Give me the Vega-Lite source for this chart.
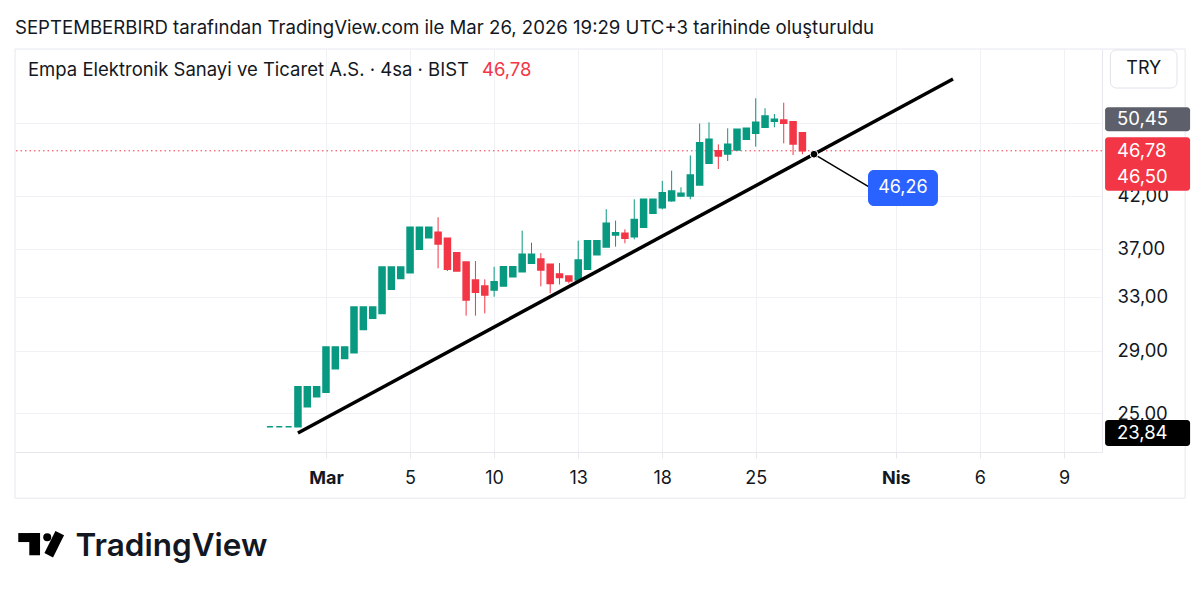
{
  "$schema": "https://vega.github.io/schema/vega-lite/v6.json",
  "width": 1087,
  "height": 403,
  "autosize": {"type": "none"},
  "padding": {"left": 15, "top": 49, "right": 98, "bottom": 140},
  "background": "white",
  "config": {"view": {"stroke": null}, "font": "Inter", "axis": {"zindex": 0}},
  "title": {
    "text": "SEPTEMBERBIRD tarafından TradingView.com ile Mar 26, 2026 19:29 UTC+3 tarihinde oluşturuldu",
    "anchor": "start", "frame": "group", "offset": 15, "baseline": "alphabetic", "dy": 19,
    "fontSize": 18.6, "fontWeight": "normal", "color": "#131722", "font": "Inter"
  },
  "datasets": {
    "candles": [
      {"i": -3, "o": 24.20, "h": 24.20, "l": 24.20, "c": 24.20},
      {"i": -2, "o": 24.20, "h": 24.20, "l": 24.20, "c": 24.20},
      {"i": -1, "o": 24.20, "h": 24.20, "l": 24.20, "c": 24.20},
      {"i": 0, "o": 24.20, "h": 26.62, "l": 24.20, "c": 26.62},
      {"i": 1, "o": 25.38, "h": 26.62, "l": 25.38, "c": 26.62},
      {"i": 2, "o": 25.99, "h": 26.62, "l": 25.99, "c": 26.62},
      {"i": 3, "o": 26.27, "h": 29.28, "l": 26.27, "c": 29.28},
      {"i": 4, "o": 27.79, "h": 29.28, "l": 27.79, "c": 29.28},
      {"i": 5, "o": 28.49, "h": 29.28, "l": 28.49, "c": 29.28},
      {"i": 6, "o": 28.87, "h": 32.21, "l": 28.87, "c": 32.21},
      {"i": 7, "o": 30.53, "h": 32.21, "l": 30.53, "c": 32.21},
      {"i": 8, "o": 31.35, "h": 32.21, "l": 31.35, "c": 32.21},
      {"i": 9, "o": 31.72, "h": 35.43, "l": 31.72, "c": 35.43},
      {"i": 10, "o": 33.60, "h": 35.43, "l": 33.60, "c": 35.43},
      {"i": 11, "o": 34.49, "h": 35.43, "l": 34.49, "c": 35.43},
      {"i": 12, "o": 34.96, "h": 38.97, "l": 34.96, "c": 38.97},
      {"i": 13, "o": 36.97, "h": 38.97, "l": 36.97, "c": 38.97},
      {"i": 14, "o": 38.01, "h": 38.97, "l": 38.01, "c": 38.97},
      {"i": 15, "o": 38.50, "h": 39.91, "l": 35.33, "c": 37.44},
      {"i": 16, "o": 37.95, "h": 37.95, "l": 35.10, "c": 35.24},
      {"i": 17, "o": 36.67, "h": 36.67, "l": 35.10, "c": 35.10},
      {"i": 18, "o": 35.86, "h": 35.86, "l": 31.55, "c": 32.75},
      {"i": 19, "o": 34.35, "h": 35.95, "l": 31.55, "c": 33.36},
      {"i": 20, "o": 33.86, "h": 34.41, "l": 31.72, "c": 33.14},
      {"i": 21, "o": 33.54, "h": 35.46, "l": 33.01, "c": 34.21},
      {"i": 22, "o": 33.86, "h": 35.46, "l": 33.86, "c": 35.46},
      {"i": 23, "o": 34.63, "h": 35.46, "l": 34.63, "c": 35.46},
      {"i": 24, "o": 35.04, "h": 38.65, "l": 35.04, "c": 36.53},
      {"i": 25, "o": 35.75, "h": 37.56, "l": 35.75, "c": 36.53},
      {"i": 26, "o": 36.12, "h": 36.64, "l": 33.84, "c": 35.18},
      {"i": 27, "o": 35.67, "h": 35.67, "l": 33.28, "c": 34.08},
      {"i": 28, "o": 34.85, "h": 35.78, "l": 33.99, "c": 34.57},
      {"i": 29, "o": 34.68, "h": 34.68, "l": 34.07, "c": 34.27},
      {"i": 30, "o": 34.35, "h": 37.74, "l": 34.23, "c": 36.04},
      {"i": 31, "o": 35.25, "h": 37.74, "l": 35.25, "c": 37.74},
      {"i": 32, "o": 36.49, "h": 37.74, "l": 36.49, "c": 37.74},
      {"i": 33, "o": 37.17, "h": 40.69, "l": 37.17, "c": 39.34},
      {"i": 34, "o": 38.25, "h": 39.60, "l": 37.20, "c": 38.46},
      {"i": 35, "o": 38.41, "h": 38.78, "l": 37.50, "c": 37.95},
      {"i": 36, "o": 38.10, "h": 41.66, "l": 37.86, "c": 39.71},
      {"i": 37, "o": 38.96, "h": 41.66, "l": 38.96, "c": 41.66},
      {"i": 38, "o": 40.29, "h": 41.66, "l": 40.29, "c": 41.66},
      {"i": 39, "o": 40.83, "h": 43.54, "l": 40.67, "c": 42.32},
      {"i": 40, "o": 41.52, "h": 44.61, "l": 41.42, "c": 42.49},
      {"i": 41, "o": 41.99, "h": 42.87, "l": 41.92, "c": 42.26},
      {"i": 42, "o": 41.99, "h": 46.26, "l": 41.66, "c": 44.15},
      {"i": 43, "o": 43.11, "h": 49.93, "l": 43.11, "c": 47.69},
      {"i": 44, "o": 45.40, "h": 50.07, "l": 45.40, "c": 48.08},
      {"i": 45, "o": 46.79, "h": 47.51, "l": 44.79, "c": 46.20},
      {"i": 46, "o": 46.42, "h": 49.36, "l": 45.65, "c": 47.51},
      {"i": 47, "o": 46.87, "h": 49.24, "l": 46.87, "c": 49.24},
      {"i": 48, "o": 48.08, "h": 49.36, "l": 48.08, "c": 49.36},
      {"i": 49, "o": 48.78, "h": 53.03, "l": 47.24, "c": 50.07},
      {"i": 50, "o": 49.48, "h": 51.78, "l": 49.48, "c": 50.83},
      {"i": 51, "o": 50.19, "h": 51.08, "l": 49.48, "c": 50.45},
      {"i": 52, "o": 50.35, "h": 52.48, "l": 47.62, "c": 49.95},
      {"i": 53, "o": 50.15, "h": 50.15, "l": 46.31, "c": 47.55},
      {"i": 54, "o": 48.85, "h": 48.85, "l": 46.40, "c": 46.78}
    ]
  },
  "layer": [
    {
      "data": {"name": "candles"},
      "mark": {"type": "rule", "strokeWidth": 1},
      "encoding": {
        "x": {
          "field": "i", "type": "quantitative",
          "scale": {"domain": [-30.29, 86.07], "nice": false, "zero": false, "padding": 0},
          "axis": {
            "values": [3, 12, 21, 30, 39, 49, 64, 73, 82],
            "labelExpr": "datum.value == 3 ? 'Mar' : datum.value == 12 ? '5' : datum.value == 21 ? '10' : datum.value == 30 ? '13' : datum.value == 39 ? '18' : datum.value == 49 ? '25' : datum.value == 64 ? 'Nis' : datum.value == 73 ? '6' : '9'",
            "labelFontWeight": {"condition": {"test": "datum.value == 3 || datum.value == 64", "value": "bold"}, "value": "normal"},
            "labelFontSize": 18, "labelColor": "#131722", "labelFont": "Inter",
            "labelBaseline": "middle", "labelPadding": 20, "labelFlush": false, "labelOverlap": false,
            "grid": true, "gridColor": "#eff1f5", "gridWidth": 1,
            "ticks": true, "tickSize": 6, "tickColor": "#e6e8ee",
            "domain": true, "domainColor": "#e6e8ee",
            "title": "TradingView", "titleFont": "Inter", "titleFontSize": 31.5, "titleFontWeight": 600,
            "titleColor": "#131722", "titleAnchor": "start", "titleAlign": "left",
            "titleX": 60, "titleY": 94, "titleBaseline": "middle"
          }
        },
        "y": {
          "field": "l", "type": "quantitative",
          "scale": {"type": "log", "domain": [22.78, 59.66], "nice": false, "zero": false, "padding": 0},
          "axis": {
            "orient": "right", "values": [25, 29, 33, 37, 42, 50],
            "labelExpr": "datum.value == 50 ? '' : replace(format(datum.value, '.2f'), '.', ',')",
            "labelFontSize": 18.5, "labelColor": "#131722", "labelFont": "Inter",
            "labelAlign": "left", "labelPadding": 15,
            "grid": true, "gridColor": "#eff1f5", "gridWidth": 1,
            "ticks": false, "domain": true, "domainColor": "#e6e8ee", "title": null
          }
        },
        "y2": {"field": "h"},
        "color": {"condition": {"test": "datum.c >= datum.o", "value": "#089981"}, "value": "#f23645"}
      }
    },
    {
      "data": {"values": [{}]},
      "mark": {"type": "rule", "stroke": "#f23645", "strokeWidth": 1, "strokeDash": [1.5, 3]},
      "encoding": {"y": {"datum": 46.78}}
    },
    {
      "data": {"name": "candles"},
      "mark": {"type": "bar", "size": 6, "strokeWidth": 1.5},
      "encoding": {
        "x": {"field": "i", "type": "quantitative"},
        "y": {"field": "o", "type": "quantitative"},
        "y2": {"field": "c"},
        "fill": {"condition": {"test": "datum.c >= datum.o", "value": "#089981"}, "value": "#f23645"},
        "stroke": {"condition": {"test": "datum.c >= datum.o", "value": "#089981"}, "value": "#f23645"}
      }
    },
    {
      "data": {"values": [{}]},
      "mark": {"type": "rule", "stroke": "#000000", "strokeWidth": 3.5},
      "encoding": {
        "x": {"datum": 0}, "y": {"datum": 23.84},
        "x2": {"datum": 70.12}, "y2": {"datum": 55.53}
      }
    },
    {
      "data": {"values": [{}]},
      "mark": {"type": "rule", "stroke": "#000000", "strokeWidth": 1.5},
      "encoding": {
        "x": {"datum": 55.24}, "y": {"datum": 46.4},
        "x2": {"datum": 61.3}, "y2": {"datum": 42.81}
      }
    },
    {
      "data": {"values": [{}]},
      "mark": {"type": "point", "filled": true, "fill": "#000000", "stroke": "#ffffff", "strokeWidth": 1, "size": 60, "opacity": 1},
      "encoding": {"x": {"datum": 55.24}, "y": {"datum": 46.4}}
    },
    {
      "data": {"values": [{}]},
      "mark": {"type": "rect", "fill": "#2962ff", "cornerRadius": 6},
      "encoding": {
        "x": {"datum": 61.02}, "x2": {"datum": 68.51},
        "y": {"datum": 44.68}, "y2": {"datum": 41.0}
      }
    },
    {
      "data": {"values": [{}]},
      "mark": {"type": "text", "text": "46,26", "color": "#ffffff", "fontSize": 18, "font": "Inter", "align": "center", "baseline": "middle"},
      "encoding": {"x": {"datum": 64.76}, "y": {"datum": 42.81}}
    },
    {
      "data": {"values": [{}]},
      "mark": {"type": "text", "text": "Empa Elektronik Sanayi ve Ticaret A.S. · 4sa · BIST", "color": "#131722", "fontSize": 18.5, "font": "Inter", "align": "left", "baseline": "middle"},
      "encoding": {"x": {"datum": -28.9}, "y": {"datum": 56.74}}
    },
    {
      "data": {"values": [{}]},
      "mark": {"type": "text", "text": "46,78", "color": "#f23645", "fontSize": 18.5, "font": "Inter", "align": "left", "baseline": "middle"},
      "encoding": {"x": {"datum": 19.7}, "y": {"datum": 56.74}}
    },
    {
      "data": {"values": [{}]},
      "mark": {"type": "rect", "fill": null, "stroke": "#e6e8ee", "strokeWidth": 1},
      "encoding": {
        "x": {"datum": -30.29}, "x2": {"datum": 94.97},
        "y": {"datum": 59.66}, "y2": {"datum": 20.40}
      }
    },
    {
      "data": {"values": [{}]},
      "mark": {"type": "rect", "fill": "#ffffff", "stroke": "#e0e3eb", "strokeWidth": 1, "cornerRadius": 6},
      "encoding": {
        "x": {"datum": 86.97}, "x2": {"datum": 94.1},
        "y": {"datum": 59.52}, "y2": {"datum": 54.35}
      }
    },
    {
      "data": {"values": [{}]},
      "mark": {"type": "text", "text": "TRY", "color": "#131722", "fontSize": 18, "font": "Inter", "align": "center", "baseline": "middle"},
      "encoding": {"x": {"datum": 90.55}, "y": {"datum": 56.88}}
    },
    {
      "data": {"values": [{}]},
      "mark": {"type": "bar", "fill": "#5d606b", "size": 24, "cornerRadius": 3},
      "encoding": {"x": {"datum": 86.4}, "x2": {"datum": 95.5}, "y": {"datum": 50.45}}
    },
    {
      "data": {"values": [{}]},
      "mark": {"type": "bar", "fill": "#f23645", "size": 27, "cornerRadiusTopLeft": 3, "cornerRadiusTopRight": 3},
      "encoding": {"x": {"datum": 86.4}, "x2": {"datum": 95.5}, "y": {"datum": 46.78}}
    },
    {
      "data": {"values": [{}]},
      "mark": {"type": "bar", "fill": "#f23645", "size": 27, "yOffset": 24, "cornerRadiusBottomLeft": 3, "cornerRadiusBottomRight": 3},
      "encoding": {"x": {"datum": 86.4}, "x2": {"datum": 95.5}, "y": {"datum": 46.5}}
    },
    {
      "data": {"values": [{}]},
      "mark": {"type": "bar", "fill": "#000000", "size": 26, "cornerRadius": 3},
      "encoding": {"x": {"datum": 86.4}, "x2": {"datum": 95.5}, "y": {"datum": 23.84}}
    },
    {
      "data": {"values": [{}]},
      "mark": {"type": "text", "text": "50,45", "color": "#ffffff", "fontSize": 18.5, "font": "Inter", "align": "left", "baseline": "middle"},
      "encoding": {"x": {"datum": 87.67}, "y": {"datum": 50.45}}
    },
    {
      "data": {"values": [{}]},
      "mark": {"type": "text", "text": "46,78", "color": "#ffffff", "fontSize": 18.5, "font": "Inter", "align": "left", "baseline": "middle"},
      "encoding": {"x": {"datum": 87.67}, "y": {"datum": 46.78}}
    },
    {
      "data": {"values": [{}]},
      "mark": {"type": "text", "text": "46,50", "color": "#ffffff", "fontSize": 18.5, "font": "Inter", "align": "left", "baseline": "middle", "yOffset": 24},
      "encoding": {"x": {"datum": 87.67}, "y": {"datum": 46.5}}
    },
    {
      "data": {"values": [{}]},
      "mark": {"type": "text", "text": "23,84", "color": "#ffffff", "fontSize": 18.5, "font": "Inter", "align": "left", "baseline": "middle"},
      "encoding": {"x": {"datum": 87.67}, "y": {"datum": 23.84}}
    },
    {
      "data": {"values": [{}]},
      "mark": {"type": "rect", "fill": "#000000"},
      "encoding": {"x": {"datum": -29.94}, "x2": {"datum": -27.61}, "y": {"datum": 18.77}, "y2": {"datum": 18.37}}
    },
    {
      "data": {"values": [{}]},
      "mark": {"type": "rect", "fill": "#000000"},
      "encoding": {"x": {"datum": -28.76}, "x2": {"datum": -27.61}, "y": {"datum": 18.77}, "y2": {"datum": 17.80}}
    },
    {
      "data": {"values": [{}]},
      "mark": {"type": "point", "shape": "circle", "filled": true, "fill": "#000000", "size": 64, "opacity": 1},
      "encoding": {"x": {"datum": -26.84}, "y": {"datum": 18.58}}
    },
    {
      "data": {"values": [{}]},
      "mark": {"type": "rule", "stroke": "#000000", "strokeWidth": 9.6, "strokeCap": "butt"},
      "encoding": {"x": {"datum": -25.5}, "y": {"datum": 18.77}, "x2": {"datum": -26.68}, "y2": {"datum": 17.80}}
    }
  ]
}
